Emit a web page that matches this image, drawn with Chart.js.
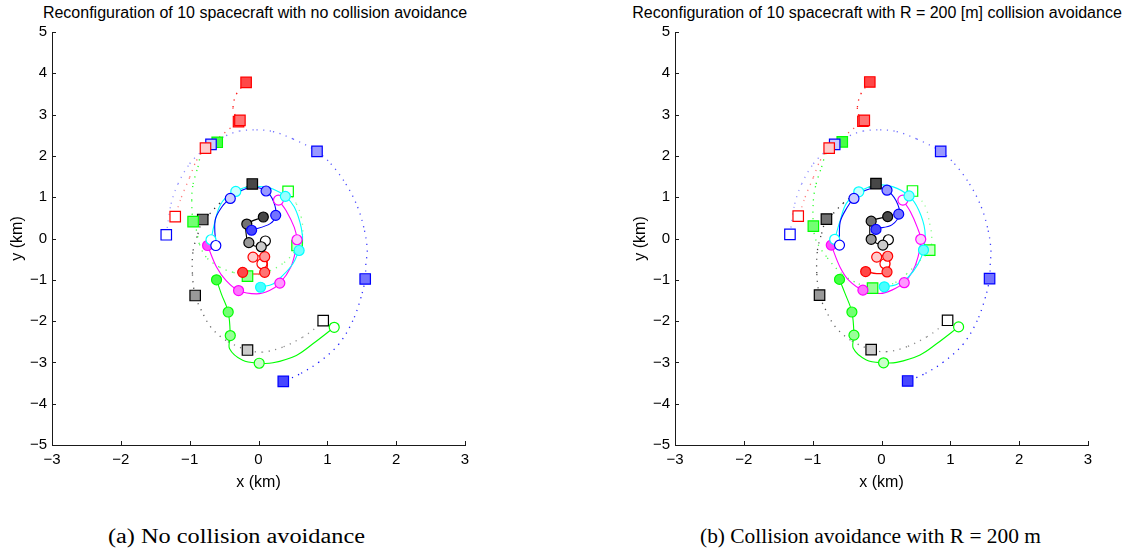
<!DOCTYPE html>
<html><head><meta charset="utf-8">
<script src="https://cdn.jsdelivr.net/npm/chart.js@4.4.1/dist/chart.umd.min.js"></script>
<style>
html,body{margin:0;padding:0;background:#fff}
body{width:1134px;height:550px;overflow:hidden;position:relative;font-family:"Liberation Sans",Arial,sans-serif;color:#000}
.box{position:absolute;top:0}
.title{position:absolute;top:3px;font-size:16px;line-height:19px;white-space:nowrap;transform:translateX(-50%)}
.cap{position:absolute;top:524px;font-family:"Liberation Serif",serif;font-size:20px;line-height:24px;white-space:nowrap;transform-origin:0 50%}
</style></head><body>
<div class="title" style="left:255px">Reconfiguration of 10 spacecraft with no collision avoidance</div>
<div class="title" style="left:877px">Reconfiguration of 10 spacecraft with R = 200 [m] collision avoidance</div>
<div class="box" style="left:0"><canvas id="c1" width="560" height="500"></canvas></div>
<div class="box" style="left:622px"><canvas id="c2" width="512" height="500"></canvas></div>
<div class="cap" id="capA" data-l="108" data-w="257">(a) No collision avoidance</div>
<div class="cap" id="capB" data-l="700" data-w="341">(b) Collision avoidance with R = 200 m</div>
<script>
// ---------- axes ----------
const xTicks = [-3, -2, -1, 0, 1, 2, 3];
const yTicks = [-5, -4, -3, -2, -1, 0, 1, 2, 3, 4, 5];

// ---------- panel (a): no collision avoidance ----------
const redDotA   = [[-1.21,0.53],[-1.20,0.60],[-1.12,1.00],[-1.00,1.48],[-0.90,1.89],[-0.77,2.19],[-0.57,2.45],[-0.42,2.66],[-0.28,2.84],[-0.34,2.99],[-0.37,3.18],[-0.32,3.50],[-0.18,3.78]];
const blueDotA  = [[-1.34,0.09],[-1.27,0.84],[-1.17,1.32],[-1.00,1.81],[-0.81,2.13],[-0.69,2.28],[-0.47,2.49],[-0.28,2.60],[-0.03,2.63],[0.21,2.59],[0.50,2.41],[0.85,2.11],[1.05,1.81],[1.27,1.32],[1.44,0.76],[1.54,0.19],[1.58,-0.29],[1.56,-0.61],[1.55,-0.98],[1.49,-1.42],[1.37,-1.99],[1.17,-2.55],[0.88,-2.99],[0.59,-3.29],[0.36,-3.46]];
const greenDotA = [[0.43,1.14],[0.55,0.84],[0.62,0.52],[0.64,0.11],[0.56,-0.17],[0.52,-0.33],[0.35,-0.61],[0.11,-0.82],[-0.16,-0.91],[-0.37,-0.82],[-0.57,-0.69],[-0.76,-0.45],[-0.86,-0.13],[-0.90,0.19],[-0.95,0.41],[-0.97,0.92],[-0.95,1.32],[-0.88,1.73],[-0.81,2.13],[-0.60,2.33]];
const blackDotA = [[0.94,-1.99],[0.81,-2.19],[0.64,-2.39],[0.35,-2.63],[0.06,-2.75],[-0.16,-2.70],[-0.47,-2.47],[-0.69,-2.15],[-0.83,-1.74],[-0.92,-1.38],[-0.96,-0.85],[-0.95,-0.29],[-0.88,0.11],[-0.81,0.46],[-0.71,0.60],[-0.57,0.84],[-0.37,1.08],[-0.18,1.24],[-0.09,1.32]];

const blueSolA  = [[-0.62,-0.17],[-0.63,0.44],[-0.53,0.77],[-0.41,0.97],[-0.24,1.17],[-0.07,1.24],[0.11,1.15],[0.22,0.89],[0.25,0.56],[0.17,0.36],[-0.10,0.20]];
const cyanSolA  = [[-0.69,-0.03],[-0.64,0.36],[-0.57,0.76],[-0.47,1.00],[-0.33,1.14],[-0.18,1.24],[0.01,1.26],[0.21,1.20],[0.39,1.02],[0.52,0.76],[0.62,0.27],[0.64,-0.13],[0.59,-0.29],[0.50,-0.61],[0.35,-0.90],[0.21,-1.10],[0.03,-1.18]];
const magSolA   = [[0.29,0.93],[0.40,0.68],[0.52,0.27],[0.56,-0.03],[0.55,-0.21],[0.47,-0.69],[0.31,-1.08],[0.16,-1.26],[-0.03,-1.34],[-0.29,-1.26],[-0.47,-1.02],[-0.61,-0.69],[-0.74,-0.17]];
const greenSolA = [[1.10,-2.15],[0.79,-2.55],[0.55,-2.83],[0.21,-3.01],[0.01,-3.02],[-0.23,-2.95],[-0.42,-2.67],[-0.41,-2.35],[-0.44,-1.78],[-0.54,-1.34],[-0.61,-1.00]];
const blackSolA = [[0.10,-0.06],[0.04,-0.20],[-0.14,-0.10],[-0.18,0.12],[-0.17,0.35],[0.07,0.52]];
const redSolA   = [[0.05,-0.61],[-0.08,-0.45],[0.09,-0.44],[0.13,-0.62],[0.09,-0.82],[-0.07,-0.86],[-0.23,-0.82]];

const redSqA   = [[-1.21,0.53],[-0.77,2.19],[-0.29,2.83],[-0.27,2.86],[-0.18,3.78]];
const blueSqA  = [[-1.34,0.09],[-0.69,2.28],[0.85,2.11],[1.55,-0.98],[0.36,-3.46]];
const greenSqA = [[0.43,1.14],[0.56,-0.17],[-0.16,-0.91],[-0.95,0.41],[-0.60,2.33]];
const blackSqA = [[0.94,-1.99],[-0.16,-2.70],[-0.92,-1.38],[-0.81,0.46],[-0.09,1.32]];
const blueCiA  = [[-0.62,-0.17],[-0.41,0.97],[0.11,1.15],[0.25,0.56],[-0.10,0.20]];
const cyanCiA  = [[-0.69,-0.03],[-0.33,1.14],[0.39,1.02],[0.59,-0.29],[0.03,-1.18]];
const magCiA   = [[0.29,0.93],[0.56,-0.03],[0.31,-1.08],[-0.29,-1.26],[-0.74,-0.17]];
const greenCiA = [[1.10,-2.15],[0.01,-3.02],[-0.41,-2.35],[-0.44,-1.78],[-0.61,-1.00]];
const blackCiA = [[0.10,-0.06],[0.04,-0.20],[-0.14,-0.10],[-0.17,0.35],[0.07,0.52]];
const redCiA   = [[0.05,-0.61],[-0.08,-0.45],[0.09,-0.44],[0.09,-0.82],[-0.23,-0.82]];

// ---------- panel (b): R = 200 m collision avoidance ----------
const redDotB   = [[-1.21,0.54],[-1.19,0.60],[-1.11,1.00],[-0.99,1.48],[-0.89,1.89],[-0.76,2.19],[-0.56,2.45],[-0.41,2.66],[-0.27,2.85],[-0.33,2.98],[-0.35,3.18],[-0.30,3.50],[-0.17,3.79]];
const blueDotB  = [[-1.33,0.10],[-1.26,0.84],[-1.16,1.32],[-0.99,1.81],[-0.80,2.13],[-0.68,2.28],[-0.46,2.49],[-0.27,2.60],[-0.02,2.63],[0.22,2.59],[0.51,2.41],[0.86,2.11],[1.06,1.81],[1.28,1.32],[1.45,0.76],[1.55,0.19],[1.59,-0.29],[1.58,-0.61],[1.57,-0.97],[1.51,-1.42],[1.39,-1.99],[1.19,-2.55],[0.90,-2.99],[0.61,-3.29],[0.38,-3.45]];
const greenDotB = [[0.45,1.15],[0.63,0.80],[0.70,0.36],[0.73,0.04],[0.70,-0.28],[0.51,-0.61],[0.37,-0.85],[0.17,-1.09],[-0.13,-1.20],[-0.39,-1.05],[-0.58,-0.85],[-0.80,-0.44],[-0.95,-0.05],[-0.99,0.30],[-0.99,0.92],[-0.95,1.32],[-0.87,1.73],[-0.78,2.13],[-0.57,2.34]];
const blackDotB = [[0.96,-1.98],[0.83,-2.18],[0.66,-2.38],[0.37,-2.62],[0.08,-2.74],[-0.15,-2.69],[-0.45,-2.46],[-0.67,-2.14],[-0.81,-1.73],[-0.90,-1.37],[-0.94,-0.84],[-0.93,-0.28],[-0.87,0.12],[-0.80,0.47],[-0.70,0.61],[-0.56,0.85],[-0.36,1.09],[-0.17,1.25],[-0.08,1.33]];

const blueSolB  = [[-0.61,-0.16],[-0.60,0.40],[-0.50,0.75],[-0.40,0.97],[-0.24,1.16],[-0.07,1.23],[0.08,1.17],[0.21,0.92],[0.26,0.60],[0.15,0.33],[-0.07,0.24]];
const cyanSolB  = [[-0.68,-0.02],[-0.60,0.44],[-0.51,0.85],[-0.33,1.13],[-0.07,1.29],[0.17,1.25],[0.40,1.03],[0.54,0.69],[0.63,0.20],[0.61,-0.28],[0.53,-0.62],[0.38,-0.95],[0.21,-1.12],[0.04,-1.17]];
const magSolB   = [[0.31,0.93],[0.42,0.65],[0.52,0.27],[0.57,-0.02],[0.53,-0.45],[0.45,-0.80],[0.33,-1.07],[0.15,-1.25],[-0.02,-1.33],[-0.27,-1.25],[-0.47,-1.02],[-0.60,-0.70],[-0.73,-0.16]];
const greenSolB = [[1.12,-2.14],[0.80,-2.55],[0.56,-2.82],[0.22,-3.00],[0.03,-3.01],[-0.22,-2.94],[-0.41,-2.66],[-0.40,-2.34],[-0.43,-1.78],[-0.53,-1.33],[-0.61,-0.99]];
const blackSolB = [[0.10,-0.03],[0.02,-0.16],[-0.15,-0.02],[-0.17,0.22],[-0.15,0.42],[0.09,0.53]];
const redSolB   = [[0.05,-0.61],[-0.07,-0.45],[0.09,-0.43],[0.12,-0.62],[0.08,-0.81],[-0.07,-0.85],[-0.23,-0.80]];

const redSqB   = [[-1.21,0.54],[-0.76,2.19],[-0.27,2.84],[-0.25,2.86],[-0.17,3.79]];
const blueSqB  = [[-1.33,0.10],[-0.68,2.28],[0.86,2.11],[1.57,-0.97],[0.38,-3.45]];
const greenSqB = [[0.45,1.15],[0.70,-0.28],[-0.13,-1.20],[-0.99,0.30],[-0.57,2.34]];
const blackSqB = [[0.96,-1.98],[-0.15,-2.69],[-0.90,-1.37],[-0.80,0.47],[-0.08,1.33]];
const blueCiB  = [[-0.61,-0.16],[-0.40,0.97],[0.08,1.17],[0.25,0.59],[-0.08,0.22]];
const cyanCiB  = [[-0.68,-0.02],[-0.33,1.13],[0.40,1.03],[0.61,-0.28],[0.04,-1.17]];
const magCiB   = [[0.31,0.93],[0.57,-0.02],[0.33,-1.07],[-0.27,-1.25],[-0.73,-0.16]];
const greenCiB = [[1.12,-2.14],[0.03,-3.01],[-0.40,-2.34],[-0.43,-1.78],[-0.61,-0.99]];
const blackCiB = [[0.10,-0.03],[0.02,-0.16],[-0.15,-0.02],[-0.15,0.42],[0.09,0.53]];
const redCiB   = [[0.05,-0.61],[-0.07,-0.45],[0.09,-0.43],[0.08,-0.81],[-0.23,-0.80]];

// ---------- styles ----------
const SHADE = [0, 0.2, 0.4, 0.55, 0.72];
const C = {r:[255,0,0], g:[0,255,0], b:[0,0,255], c:[0,255,255], m:[255,0,255], k:[0,0,0]};
const rgb = c => `rgb(${c.join(',')})`;
const mixW = (c,a) => `rgb(${c.map(v=>Math.round(v*a+255*(1-a))).join(',')})`;
const pts = a => a.map(([x,y]) => ({x,y}));

function dotted(arr, c){
  const n = arr.length - 1;
  return {data: pts(arr), showLine:true, pointRadius:0, borderWidth:1.3, borderDash:[1.2,5.5],
    borderColor: mixW(c,0.7), tension:0.35, order:3,
    segment:{borderColor: s => mixW(c, 0.35 + 0.6*s.p1DataIndex/n)}};
}
function solid(arr, c){
  return {data: pts(arr), showLine:true, pointRadius:0, borderWidth:1.1, borderColor: rgb(c), tension:0.35, order:2};
}
function markers(arr, c, style){
  return {data: pts(arr), showLine:false, pointStyle: style,
    pointRadius: style==='rect' ? 7.4 : 5,
    pointBackgroundColor: arr.map((p,i) => SHADE[i]===0 ? '#ffffff' : mixW(c, SHADE[i])),
    pointBorderColor: rgb(c), pointBorderWidth:1.2, order: style==='rect' ? 1 : 0};
}

function panel(d){
  return [
    dotted(d.redDot,C.r), dotted(d.blueDot,C.b), dotted(d.greenDot,C.g), dotted(d.blackDot,C.k),
    solid(d.blueSol,C.b), solid(d.cyanSol,C.c), solid(d.magSol,C.m), solid(d.greenSol,C.g), solid(d.blackSol,C.k), solid(d.redSol,C.r),
    markers(d.redSq,C.r,'rect'), markers(d.blueSq,C.b,'rect'), markers(d.greenSq,C.g,'rect'), markers(d.blackSq,C.k,'rect'),
    markers(d.blueCi,C.b,'circle'), markers(d.cyanCi,C.c,'circle'), markers(d.magCi,C.m,'circle'),
    markers(d.greenCi,C.g,'circle'), markers(d.blackCi,C.k,'circle'), markers(d.redCi,C.r,'circle')
  ];
}

Chart.defaults.font.family = "'Liberation Sans', Arial, Helvetica, sans-serif";
Chart.defaults.color = '#000';

const fmt = v => String(v).replace('-', '\u2212');

const inwardTicks = {
  id:'inwardTicks',
  afterDraw(chart){
    const {ctx, chartArea:{left,bottom}, scales:{x,y}} = chart;
    ctx.save(); ctx.strokeStyle='#1a1a1a'; ctx.lineWidth=1; ctx.beginPath();
    x.ticks.forEach(t => { const px = Math.round(x.getPixelForValue(t.value))+0.5; ctx.moveTo(px,bottom); ctx.lineTo(px,bottom-4); });
    y.ticks.forEach(t => { const py = Math.round(y.getPixelForValue(t.value))+0.5; ctx.moveTo(left,py); ctx.lineTo(left+4,py); });
    ctx.stroke(); ctx.restore();
  }
};

function makeChart(id, datasets, yW, padR, yTitlePad){
  return new Chart(document.getElementById(id), {
    type:'scatter',
    data:{datasets},
    options:{
      responsive:false, animation:false, events:[],
      layout:{padding:{left:0, right:padR, top:32, bottom:0}},
      plugins:{legend:{display:false}, tooltip:{enabled:false}, title:{display:false}},
      scales:{
        x:{type:'linear', min:xTicks[0], max:xTicks[xTicks.length-1],
           afterFit: s => { s.height = 55; },
           afterBuildTicks: s => { s.ticks = xTicks.map(v => ({value:v})); },
           ticks:{autoSkip:false, maxRotation:0, padding:6, font:{size:15}, color:'#000', callback: fmt},
           grid:{display:false, drawTicks:false},
           border:{display:true, color:'#1a1a1a', width:1},
           title:{display:true, text:'x (km)', color:'#000', font:{size:16}, padding:{top:0, bottom:8}}},
        y:{type:'linear', min:yTicks[0], max:yTicks[yTicks.length-1],
           afterFit: s => { s.width = yW; },
           afterBuildTicks: s => { s.ticks = yTicks.map(v => ({value:v})); },
           ticks:{autoSkip:false, padding:5, font:{size:15}, color:'#000', callback: fmt},
           grid:{display:false, drawTicks:false},
           border:{display:true, color:'#1a1a1a', width:1},
           title:{display:true, text:'y (km)', color:'#000', font:{size:16}, padding:{top:yTitlePad, bottom:0}}}
      }
    },
    plugins:[inwardTicks]
  });
}

makeChart('c1', panel({redDot:redDotA, blueDot:blueDotA, greenDot:greenDotA, blackDot:blackDotA,
  blueSol:blueSolA, cyanSol:cyanSolA, magSol:magSolA, greenSol:greenSolA, blackSol:blackSolA, redSol:redSolA,
  redSq:redSqA, blueSq:blueSqA, greenSq:greenSqA, blackSq:blackSqA,
  blueCi:blueCiA, cyanCi:cyanCiA, magCi:magCiA, greenCi:greenCiA, blackCi:blackCiA, redCi:redCiA}), 52, 95, 8);
makeChart('c2', panel({redDot:redDotB, blueDot:blueDotB, greenDot:greenDotB, blackDot:blackDotB,
  blueSol:blueSolB, cyanSol:cyanSolB, magSol:magSolB, greenSol:greenSolB, blackSol:blackSolB, redSol:redSolB,
  redSq:redSqB, blueSq:blueSqB, greenSq:greenSqB, blackSq:blackSqB,
  blueCi:blueCiB, cyanCi:cyanCiB, magCi:magCiB, greenCi:greenCiB, blackCi:blackCiB, redCi:redCiB}), 53, 46, 9);

// fit captions to their widths
document.querySelectorAll('.cap').forEach(el => {
  const w = el.getBoundingClientRect().width;
  el.style.left = el.dataset.l + 'px';
  el.style.transform = `scaleX(${(+el.dataset.w)/w})`;
});
</script>
</body></html>
